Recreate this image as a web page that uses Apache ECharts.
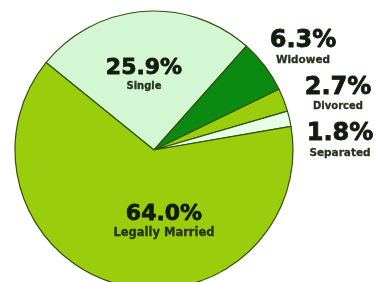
<!DOCTYPE html>
<html><head><meta charset="utf-8">
<script src="https://cdn.jsdelivr.net/npm/echarts@6/dist/echarts.min.js"></script>
<style>html,body{margin:0;padding:0;background:#fff}#c{width:374px;height:282px}</style>
</head><body><div id="c"></div>
<script>
const categories = ['Single', 'Widowed', 'Divorced', 'Separated', 'Legally Married'];
const values = [25.9, 6.3, 2.7, 1.8, 64.0];
const colors = ['#d2f7d2', '#0b8a12', '#9acd0c', '#e6ffe6', '#9acd0c'];
const labelPlace = [
  {x: 144, y: 75, big: 22, small: 10},
  {x: 303, y: 48, big: 24, small: 10.5},
  {x: 338, y: 94, big: 24, small: 10},
  {x: 340, y: 141, big: 24, small: 10.5},
  {x: 164, y: 222, big: 22, small: 11.5}
];
const chart = echarts.init(document.getElementById('c'));
chart.setOption({
  animation: false,
  series: [{
    type: 'pie',
    center: [154, 150],
    radius: 139,
    startAngle: 141,
    clockwise: true,
    data: categories.map((n, i) => ({
      name: n, value: values[i],
      itemStyle: {color: colors[i]},
      label: {
        rich: {
          p: {fontFamily: 'DejaVu Sans', fontWeight: 'bold', fontSize: labelPlace[i].big, color: '#121c0e', lineHeight: labelPlace[i].big,
              textBorderColor: '#121c0e', textBorderWidth: 0.8},
          n: {fontFamily: 'DejaVu Sans', fontWeight: 'bold', fontSize: labelPlace[i].small, color: '#27331f', lineHeight: labelPlace[i].small + 3,
              textBorderColor: '#27331f', textBorderWidth: 0.3}
        }
      }
    })),
    itemStyle: {borderColor: '#34500e', borderWidth: 1.2},
    label: {
      show: true,
      position: 'inside',
      align: 'center',
      verticalAlign: 'middle',
      formatter: p => '{p|' + values[p.dataIndex].toFixed(1) + '%}\n{n|' + (p.name) + '}'
    },
    labelLine: {show: false},
    labelLayout: p => ({x: labelPlace[p.dataIndex].x, y: labelPlace[p.dataIndex].y, align: 'center', verticalAlign: 'middle'})
  }]
});
</script></body></html>
